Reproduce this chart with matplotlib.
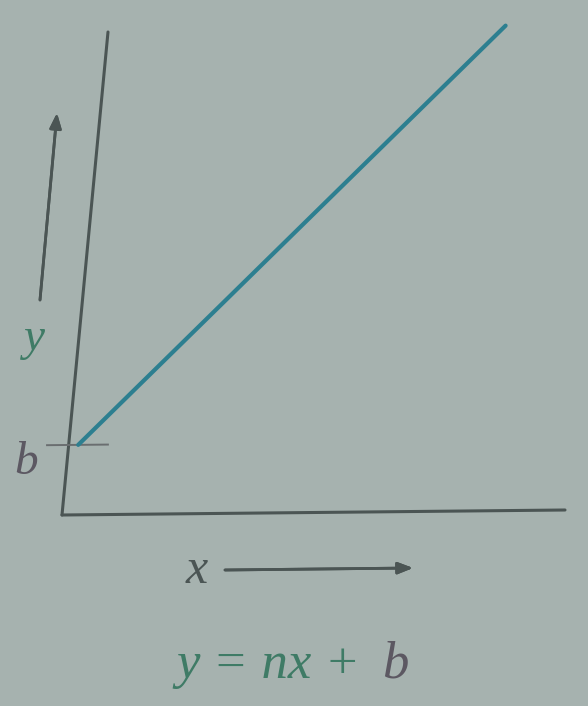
import numpy as np
import matplotlib
matplotlib.use("Agg")
import matplotlib.pyplot as plt
from matplotlib.transforms import Affine2D

# data (axes run 0..10 on both sides)
x_line = [0.19, 7.9]
y_line = [1.45, 10.05]
b_value = 1.45
x_axis = [0, 10]
y_axis = [0, 10]

bg = "#a6b2af"
axis_col = "#4b5554"
line_col = "#2d7f90"
text_col = "#5c5862"
eq_col = "#3f7b66"

fig = plt.figure(figsize=(5.88, 7.06), dpi=100, facecolor=bg)
ax = fig.add_axes([62 / 588, 191 / 706, 503 / 588, 483 / 706])
ax.set_facecolor("none")
ax.set_xlim(x_axis)
ax.set_ylim(y_axis)
ax.axis("off")

# the photo is a little skewed, shear everything about the origin
ox, oy = 62, 191
skew = (Affine2D().translate(-ox, -oy)
        .skew(np.arctan(46 / 483), np.arctan(5 / 503))
        .translate(ox, oy))
tr = ax.transData + skew

ax.plot(x_axis, [0, 0], color=axis_col, lw=2.2, transform=tr, clip_on=False,
        solid_capstyle="round")
ax.plot([0, 0], y_axis, color=axis_col, lw=2.2, transform=tr, clip_on=False,
        solid_capstyle="round")
ax.plot([-0.43, 0.78], [b_value, b_value], color="#6a6e70", lw=1.4,
        transform=tr, clip_on=False)
ax.plot(x_line, y_line, color=line_col, lw=3, transform=tr, clip_on=False,
        solid_capstyle="round")

serif = dict(family="Liberation Serif", style="italic")

fig.text(14 / 588, (706 - 474) / 706, "b", color=text_col, fontsize=34, **serif)
fig.text(24 / 588, (706 - 350) / 706, "y", color=eq_col, fontsize=34, **serif)
fig.text(186 / 588, (706 - 583) / 706, "x", color=axis_col, fontsize=36, **serif)

arrow = dict(arrowstyle="-|>,head_length=0.9,head_width=0.35", color=axis_col,
             lw=2, shrinkA=0, shrinkB=0)
fig.add_artist(plt.annotate("", xy=(57, 593), xytext=(40, 406),
                            xycoords="figure pixels", textcoords="figure pixels",
                            arrowprops=arrow))
fig.add_artist(plt.annotate("", xy=(413, 138), xytext=(225, 136),
                            xycoords="figure pixels", textcoords="figure pixels",
                            arrowprops=arrow))

fig.text(176 / 588, 28 / 706, "y = nx +", color=eq_col, fontsize=38, **serif)
fig.text(382 / 588, 28 / 706, "b", color=text_col, fontsize=38, **serif)

fig.savefig("out.png", dpi=100, facecolor=bg)
